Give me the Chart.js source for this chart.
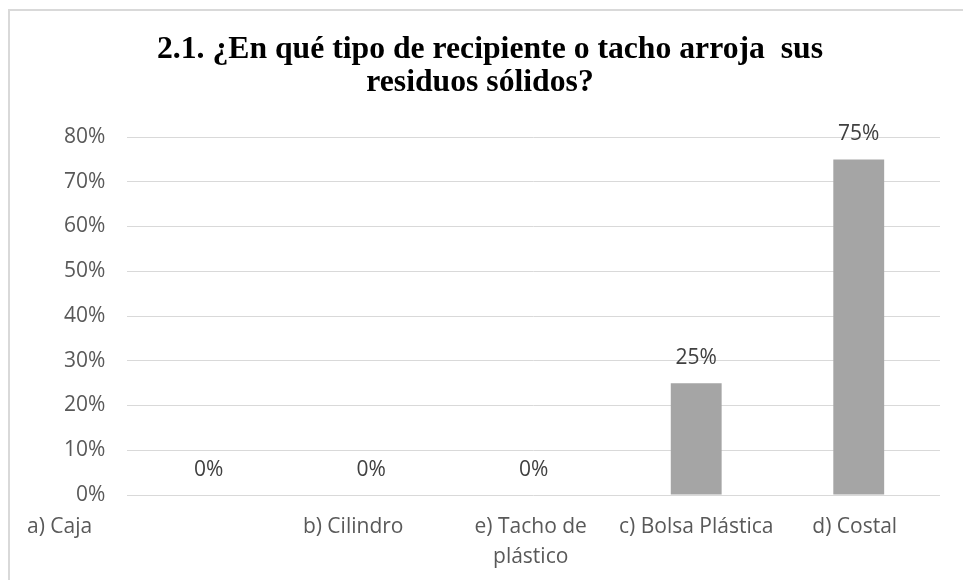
<!DOCTYPE html>
<html>
<head>
<meta charset="utf-8">
<script src="https://cdn.jsdelivr.net/npm/chart.js@4.4.1/dist/chart.umd.min.js"></script>
<style>
  html, body { margin: 0; padding: 0; background: #fff; }
  #wrap { width: 963px; height: 580px; }
</style>
</head>
<body>
<div id="wrap"><canvas id="residuosChart" width="963" height="580"></canvas></div>
<script>
const categories = ['a) Caja', 'b) Cilindro', ['e) Tacho de', 'plástico'], 'c) Bolsa Plástica', 'd) Costal'];
const shares = [0, 0, 0, 0.25, 0.75];
const titleLines = ['2.1. ¿En qué tipo de recipiente o tacho arroja  sus', 'residuos sólidos?'];
// category labels are not all centred under their columns
const labelShift = [-149, -18, -3, 0, -4];

const labelFont = '21px "Open Sans"';
const pct = v => Math.round(v * 100) + '%';

// light frame around the chart, top and left edges only
const framePlugin = {
    id: 'frame',
    beforeDraw(chart) {
        const ctx = chart.ctx;
        ctx.save();
        ctx.fillStyle = '#fff';
        ctx.fillRect(0, 0, chart.width, chart.height);
        ctx.strokeStyle = '#d9d9d9';
        ctx.lineWidth = 2;
        ctx.beginPath();
        ctx.moveTo(9, chart.height);
        ctx.lineTo(9, 10);
        ctx.lineTo(chart.width, 10);
        ctx.stroke();
        ctx.restore();
    }
};

const titlePlugin = {
    id: 'twoLineTitle',
    afterDraw(chart) {
        const ctx = chart.ctx;
        ctx.save();
        ctx.font = 'bold 31.7px "Liberation Serif"';
        ctx.fillStyle = '#000';
        ctx.textAlign = 'center';
        ctx.textBaseline = 'middle';
        ctx.fillText(titleLines[0], 490, 50);
        ctx.fillText(titleLines[1], 480, 83);
        ctx.restore();
    }
};

const categoryLabels = {
    id: 'categoryLabels',
    afterDraw(chart) {
        const ctx = chart.ctx;
        const x = chart.scales.x;
        const base = chart.chartArea.bottom;
        ctx.save();
        ctx.font = labelFont;
        ctx.fillStyle = '#595959';
        ctx.textAlign = 'center';
        ctx.textBaseline = 'middle';
        categories.forEach((c, i) => {
            const lines = Array.isArray(c) ? c : [c];
            const cx = x.getPixelForValue(i) + labelShift[i];
            lines.forEach((t, k) => ctx.fillText(t, cx, base + 32 + k * 30));
        });
        ctx.restore();
    }
};

const valueLabels = {
    id: 'valueLabels',
    afterDatasetsDraw(chart) {
        const ctx = chart.ctx;
        const meta = chart.getDatasetMeta(0);
        ctx.save();
        ctx.font = labelFont;
        ctx.fillStyle = '#404040';
        ctx.textAlign = 'center';
        ctx.textBaseline = 'middle';
        meta.data.forEach((bar, i) => {
            ctx.fillText(pct(shares[i]), bar.x, bar.y - 25);
        });
        ctx.restore();
    }
};

const ctx = document.getElementById('residuosChart').getContext('2d');
const residuosChart = new Chart(ctx, {
    type: 'bar',
    data: {
        labels: categories,
        datasets: [{
            label: 'Porcentaje',
            data: shares,
            backgroundColor: '#a5a5a5',
            borderWidth: 0,
            categoryPercentage: 1,
            barPercentage: 0.313
        }]
    },
    options: {
        responsive: false,
        animation: false,
        layout: {
            padding: { top: 137, left: 42, right: 23, bottom: 77 }
        },
        plugins: {
            legend: { display: false },
            title: { display: false },
            tooltip: { enabled: false }
        },
        scales: {
            x: {
                grid: { display: false },
                border: { display: false },
                ticks: { display: false }
            },
            y: {
                min: 0,
                max: 0.8,
                ticks: {
                    stepSize: 0.1,
                    padding: 22,
                    color: '#595959',
                    font: { family: 'Open Sans', size: 21 },
                    callback: v => pct(v)
                },
                grid: { color: '#d9d9d9', lineWidth: 1, drawTicks: false },
                border: { display: false }
            }
        }
    },
    plugins: [framePlugin, titlePlugin, categoryLabels, valueLabels]
});
</script>
</body>
</html>
